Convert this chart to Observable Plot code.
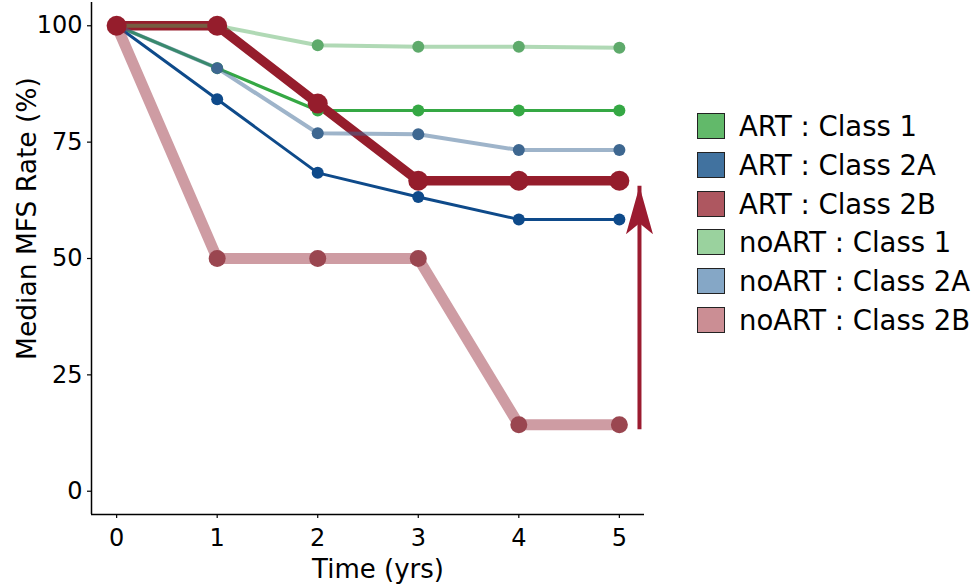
<!DOCTYPE html>
<html><head><meta charset="utf-8">
<script src="https://cdn.jsdelivr.net/npm/d3@7"></script>
<script src="https://cdn.jsdelivr.net/npm/@observablehq/plot@0.6"></script>
<style>
body{margin:0;background:#fff;}
#wrap{position:relative;width:977px;height:587px;font-family:"DejaVu Sans",sans-serif;color:#000;}
#legend{position:absolute;left:697px;top:106.6px;}
.row{display:flex;align-items:center;height:38.8px;font-size:27.5px;white-space:nowrap;}
.sw{width:28px;height:26px;border:1.5px solid #222;box-sizing:border-box;margin-right:14px;flex:none;}
</style></head><body><div id="wrap"></div>
<script>
const years = [0, 1, 2, 3, 4, 5];
const groups = ["ART : Class 1", "ART : Class 2A", "ART : Class 2B", "noART : Class 1", "noART : Class 2A", "noART : Class 2B"];
const artClass1    = [100, 90.9, 81.8, 81.8, 81.8, 81.8];
const artClass2A   = [100, 84.2, 68.4, 63.2, 58.4, 58.4];
const artClass2B   = [100, 100, 83.3, 66.7, 66.7, 66.7];
const noArtClass1  = [100, 100, 95.8, 95.5, 95.5, 95.3];
const noArtClass2A = [100, 90.9, 76.9, 76.7, 73.3, 73.3];
const noArtClass2B = [100, 50, 50, 50, 14.3, 14.3];
const yTicks = [0, 25, 50, 75, 100];
const arrowX = [5.2];
const arrowFrom = [13.2];
const arrowTo = [65.5];

const series = [artClass1, artClass2A, artClass2B, noArtClass1, noArtClass2A, noArtClass2B];
// per-group styles: line color, line opacity, line width, point color, point radius, legend swatch
const styles = [
  {line: "#35A844", op: 1,    w: 3.2, pt: "#35A844", r: 6,   sw: "#62B96A"},
  {line: "#0E4A8A", op: 1,    w: 3,   pt: "#0E4A8A", r: 6,   sw: "#41729F"},
  {line: "#951D2C", op: 1,    w: 9.5, pt: "#951D2C", r: 10,  sw: "#AE5760"},
  {line: "#4FAA5A", op: 0.45, w: 4,   pt: "#5EAA6B", r: 6,   sw: "#9AD29E"},
  {line: "#3E6A96", op: 0.5,  w: 4,   pt: "#3E6790", r: 6,   sw: "#85A7C6"},
  {line: "#9D3A48", op: 0.5,  w: 11,  pt: "#9A4650", r: 8.5, sw: "#CB8E94"}
];
// points drawn with the highlighted ART : Class 2B series on top
const dotOrder = [0, 1, 3, 4, 5, 2];

const data = groups.map((g, i) => years.map((t, j) => ({group: g, time: t, rate: series[i][j]})));
const arrowData = arrowX.map((x, i) => ({x, from: arrowFrom[i], to: arrowTo[i]}));
const xDomain = [-0.25, 5.25];
const yDomain = [-5, 105];

const headSymbol = {draw(ctx) {
  ctx.moveTo(0, 0); ctx.lineTo(13.5, 48); ctx.lineTo(0, 37); ctx.lineTo(-13.5, 48); ctx.closePath();
}};

const lineMarks = data.map((d, i) => Plot.line(d, {x: "time", y: "rate", stroke: styles[i].line, strokeOpacity: styles[i].op, strokeWidth: styles[i].w, strokeLinejoin: "round", strokeLinecap: "butt"}));
const dotMarks = dotOrder.map(i => Plot.dot(data[i], {x: "time", y: "rate", fill: styles[i].pt, r: styles[i].r, stroke: "none"}));

const chart = Plot.plot({
  width: 977, height: 587,
  marginLeft: 91, marginRight: 333, marginTop: 2, marginBottom: 73,
  style: {fontFamily: "DejaVu Sans, sans-serif", fontSize: "24px", background: "white", color: "black", overflow: "visible"},
  x: {domain: xDomain, label: null},
  y: {domain: yDomain, label: null},
  marks: [
    Plot.axisX({ticks: years, tickSize: 4, tickPadding: 10, fontSize: 24, label: null, tickFormat: d => d, stroke: "black", strokeWidth: 1.2}),
    Plot.axisY({ticks: yTicks, tickSize: 4, tickPadding: 5, fontSize: 24, label: null, tickFormat: d => d, stroke: "black", strokeWidth: 1.2}),
    Plot.ruleX([xDomain[0]], {stroke: "black", strokeWidth: 1.5}),
    Plot.ruleY([yDomain[0]], {stroke: "black", strokeWidth: 1.5}),
    ...lineMarks,
    ...dotMarks,
    Plot.ruleX(arrowData, {x: "x", y1: "from", y2: "to", stroke: "#9B1B30", strokeWidth: 4}),
    Plot.dot(arrowData, {x: "x", y: "to", symbol: headSymbol, r: 10, fill: "#9B1B30", stroke: "none"}),
    Plot.text(["Time (yrs)"], {frameAnchor: "bottom", text: d => d, textAnchor: "middle", lineAnchor: "middle", dy: 55, dx: 10, fontSize: 26}),
    Plot.text(["Median MFS Rate (%)"], {frameAnchor: "left", text: d => d, textAnchor: "middle", lineAnchor: "middle", rotate: -90, dx: -64, dy: -40, fontSize: 26.5})
  ]
});

const wrap = document.getElementById("wrap");
wrap.appendChild(chart);
const legend = document.createElement("div");
legend.id = "legend";
groups.forEach((g, i) => {
  const row = document.createElement("div");
  row.className = "row";
  const sw = document.createElement("div");
  sw.className = "sw";
  sw.style.background = styles[i].sw;
  const lab = document.createElement("span");
  lab.textContent = g;
  row.appendChild(sw); row.appendChild(lab);
  legend.appendChild(row);
});
wrap.appendChild(legend);
</script></body></html>
